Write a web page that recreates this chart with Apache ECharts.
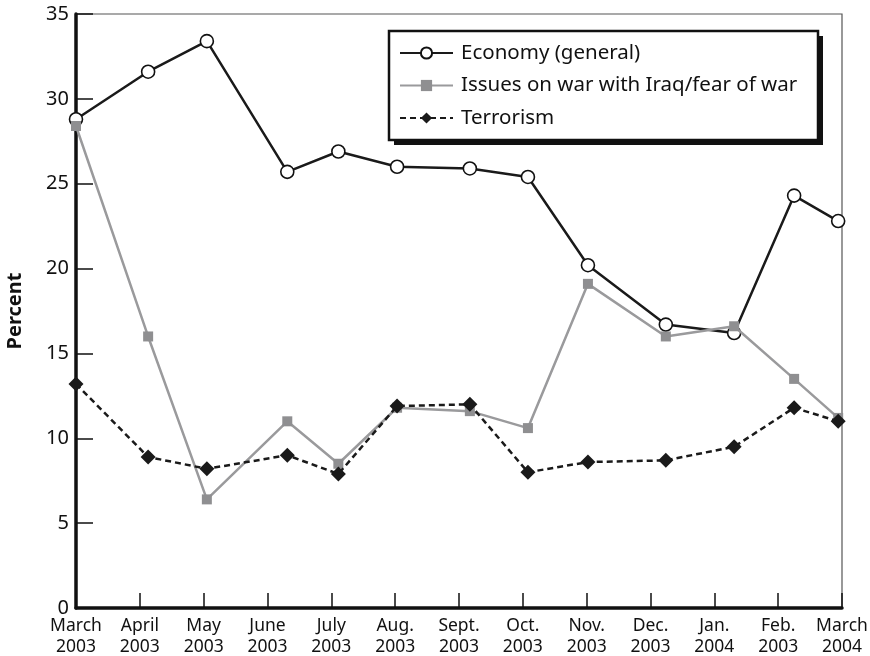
<!DOCTYPE html>
<html>
<head>
<meta charset="utf-8">
<script src="https://cdn.jsdelivr.net/npm/echarts@6/dist/echarts.min.js"></script>
<style>html,body{margin:0;padding:0;background:#fff}#c{width:870px;height:656px}</style>
</head>
<body>
<div id="c"></div>
<script>
// Tick labels along the x axis (one per month slot)
const monthLabels = ['March\n2003','April\n2003','May\n2003','June\n2003','July\n2003','Aug.\n2003','Sept.\n2003','Oct.\n2003','Nov.\n2003','Dec.\n2003','Jan.\n2004','Feb.\n2003','March\n2004'];
// Survey positions in month slots (0 = March 2003)
const surveyPos = [0, 1.13, 2.05, 3.31, 4.11, 5.03, 6.17, 7.08, 8.02, 9.24, 10.31, 11.25, 11.94];
// Series values (percent)
const economy   = [28.8, 31.6, 33.4, 25.7, 26.9, 26.0, 25.9, 25.4, 20.2, 16.7, 16.2, 24.3, 22.8];
const iraqWar   = [28.4, 16.0, 6.4, 11.0, 8.5, 11.8, 11.6, 10.6, 19.1, 16.0, 16.6, 13.5, 11.2];
const terrorism = [13.2, 8.9, 8.2, 9.0, 7.9, 11.9, 12.0, 8.0, 8.6, 8.7, 9.5, 11.8, 11.0];
const seriesNames = ['Economy (general)', 'Issues on war with Iraq/fear of war', 'Terrorism'];

const pair = vals => vals.map((v, i) => [surveyPos[i], v]);
const FONT = '"Noto Sans", "Open Sans", sans-serif';

const chart = echarts.init(document.getElementById('c'), null, {renderer: 'canvas'});
chart.setOption({
  animation: false,
  backgroundColor: '#fff',
  grid: {left: 76, right: 28, top: 14, bottom: 48, show: true, borderColor: '#555', borderWidth: 1.2,
         outerBoundsMode: 'none', containLabel: false},
  graphic: [
    {type: 'rect', z: 0, silent: true,
     shape: {x: 394, y: 36, width: 429, height: 109},
     style: {fill: '#111', stroke: null}},
    {type: 'rect', z: 1, silent: true,
     shape: {x: 389, y: 31, width: 429, height: 109},
     style: {fill: '#fff', stroke: '#111', lineWidth: 2.5}}
  ],
  legend: {
    left: 399, top: 41, orient: 'vertical',
    padding: 0, z: 5,
    itemWidth: 53, itemHeight: 14, itemGap: 8.5,
    textStyle: {fontFamily: FONT, fontSize: 20.5, color: '#111', lineHeight: 24, padding: [0, 0, 0, 3]},
    data: seriesNames
  },
  xAxis: {
    type: 'value', min: 0, max: 12, interval: 1,
    axisLine: {lineStyle: {color: '#111', width: 3.5}},
    axisTick: {inside: true, length: 15, lineStyle: {color: '#111', width: 1.5}},
    splitLine: {show: false},
    axisLabel: {
      fontFamily: FONT, fontSize: 17.5, color: '#111', lineHeight: 21, margin: 8,
      formatter: v => monthLabels[Math.round(v)] || ''
    }
  },
  yAxis: {
    type: 'value', min: 0, max: 35, interval: 5,
    name: 'Percent', nameLocation: 'middle', nameGap: 51, nameRotate: 90,
    nameTextStyle: {fontFamily: FONT, fontSize: 20, fontWeight: 'bold', color: '#111'},
    axisLine: {lineStyle: {color: '#111', width: 3.5}},
    axisTick: {inside: true, length: 17, lineStyle: {color: '#111', width: 1.5}},
    splitLine: {show: false},
    axisLabel: {fontFamily: FONT, fontSize: 20, color: '#111', margin: 7}
  },
  series: [
    {
      name: seriesNames[0], type: 'line', data: pair(economy),
      symbol: 'circle', symbolSize: 13,
      itemStyle: {color: '#fff', borderColor: '#111', borderWidth: 1.6},
      lineStyle: {color: '#1a1a1a', width: 2.5}, z: 2
    },
    {
      name: seriesNames[1], type: 'line', data: pair(iraqWar),
      symbol: 'rect', symbolSize: 10,
      itemStyle: {color: '#8f8f91'},
      lineStyle: {color: '#9a9a9c', width: 2.5}, z: 3
    },
    {
      name: seriesNames[2], type: 'line', data: pair(terrorism),
      symbol: 'diamond', symbolSize: 15,
      itemStyle: {color: '#1a1a1a'},
      lineStyle: {color: '#1a1a1a', width: 2.5, type: [6, 4]}, z: 4
    }
  ]
});
</script>
</body>
</html>
